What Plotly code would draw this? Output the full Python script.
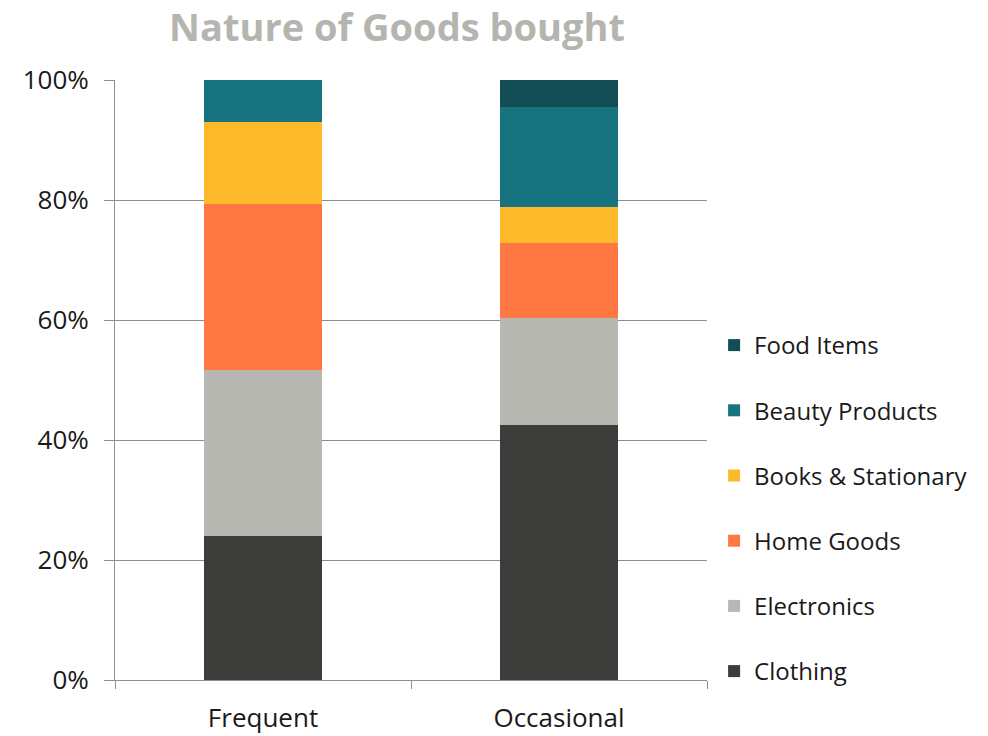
import plotly.graph_objects as go

# Share of purchases by kind of goods, per shopper group
groups = ["Frequent", "Occasional"]
categories = ["Clothing", "Electronics", "Home Goods", "Books & Stationary",
              "Beauty Products", "Food Items"]
frequent = [0.240, 0.277, 0.276, 0.137, 0.070, 0.000]
occasional = [0.425, 0.178, 0.125, 0.060, 0.167, 0.045]
colors = ["#3C3C3A", "#B7B8B1", "#FF7843", "#FDB92A", "#16737F", "#124C55"]

fig = go.Figure()
for i, name in enumerate(categories):
    fig.add_trace(go.Bar(
        x=groups,
        y=[frequent[i], occasional[i]],
        name=name,
        legendgroup=name,
        legendrank=len(categories) - i,   # top of the stack first in the legend
        marker=dict(color=colors[i], line=dict(width=0)),
        width=0.4,
    ))

axis_gray = "#8E8E8E"
font_main = "Open Sans, Lato, sans-serif"

fig.update_layout(
    width=988,
    height=736,
    barmode="stack",
    plot_bgcolor="white",
    paper_bgcolor="white",
    margin=dict(l=115, r=281, t=80, b=56),
    font=dict(family=font_main, size=26, color="#1A1A1A"),
    title=dict(
        text="<b>Nature of Goods bought</b>",
        x=397 / 988, xanchor="center",
        y=1 - 28 / 736, yanchor="middle",
        font=dict(family=font_main, size=38, color="#B4B5AF"),
    ),
    legend=dict(
        x=1.012, xanchor="left",
        y=0.595, yanchor="top",
        traceorder="grouped",
        tracegroupgap=31,
        font=dict(family=font_main, size=24, color="#1A1A1A"),
        itemwidth=30,
        borderwidth=0,
    ),
    showlegend=True,
)

fig.update_yaxes(
    range=[0, 1],
    tickvals=[0, 0.2, 0.4, 0.6, 0.8, 1.0],
    tickformat=".0%",
    showgrid=True, gridcolor=axis_gray, gridwidth=1,
    showline=True, linecolor=axis_gray, linewidth=1,
    ticks="outside", ticklen=10, tickcolor=axis_gray,
    zeroline=False,
    ticklabelstandoff=10,
    automargin=False,
)
fig.update_xaxes(
    showline=True, linecolor=axis_gray, linewidth=1,
    ticks="outside", ticklen=8, tickcolor=axis_gray,
    tickson="boundaries",
    ticklabelstandoff=15,
    automargin=False,
)

fig.write_html("out.html")
